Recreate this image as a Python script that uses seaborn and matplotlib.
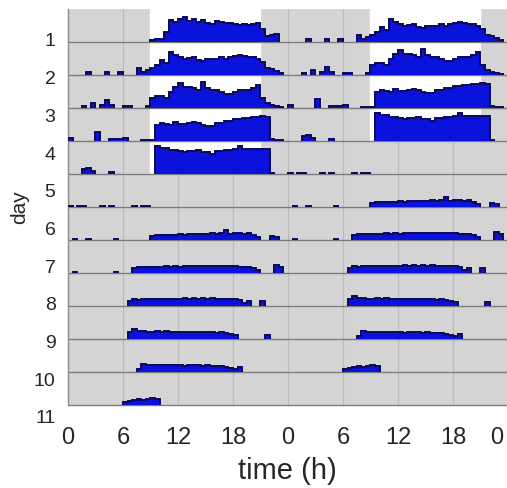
import numpy as np
import matplotlib
matplotlib.use("Agg")
import matplotlib.pyplot as plt
import seaborn as sns

# activity per half-hour bin (% of row height), one list per day
day1 = [0, 0, 0, 0, 0, 0, 0, 0, 0, 0, 0, 0,
        0, 0, 0, 0, 0, 0, 5, 8, 8, 30, 66, 62,
        70, 76, 65, 70, 62, 66, 57, 56, 63, 60, 58, 57,
        54, 53, 54, 53, 56, 58, 40, 18, 22, 25, 0, 0]
day2 = [0, 0, 0, 0, 8, 0, 0, 0, 8, 0, 0, 8,
        0, 0, 0, 20, 8, 15, 20, 30, 45, 35, 70, 60,
        55, 50, 52, 55, 45, 42, 47, 50, 50, 55, 50, 55,
        58, 62, 58, 55, 56, 50, 40, 20, 18, 12, 5, 0]
day3 = [0, 0, 0, 5, 0, 15, 0, 8, 25, 8, 0, 0,
        6, 6, 0, 0, 0, 5, 30, 35, 35, 30, 50, 65,
        75, 65, 65, 60, 55, 80, 60, 55, 55, 48, 42, 42,
        48, 55, 55, 55, 62, 70, 30, 15, 8, 5, 3, 0]
day4 = [8, 0, 0, 0, 0, 0, 28, 0, 0, 5, 6, 6,
        8, 0, 0, 0, 4, 4, 4, 50, 55, 52, 50, 58,
        52, 52, 55, 58, 55, 48, 45, 45, 55, 55, 60, 62,
        68, 68, 70, 70, 72, 72, 75, 72, 5, 3, 3, 0]
day5 = [0, 0, 0, 15, 18, 10, 0, 0, 0, 5, 0, 0,
        0, 0, 0, 0, 0, 0, 0, 85, 78, 78, 72, 72,
        70, 68, 70, 70, 72, 68, 68, 60, 70, 70, 72, 72,
        75, 85, 75, 75, 75, 75, 75, 75, 3, 0, 0, 0]
day6 = [3, 0, 3, 3, 0, 0, 0, 3, 0, 3, 0, 0,
        0, 0, 3, 0, 3, 3, 0, 0, 0, 0, 0, 0,
        0, 0, 0, 0, 0, 0, 0, 0, 0, 0, 0, 0,
        0, 0, 0, 0, 0, 0, 0, 0, 0, 0, 0, 0]
day7 = [0, 3, 0, 0, 3, 0, 0, 0, 0, 0, 3, 0,
        0, 0, 0, 0, 0, 0, 12, 15, 15, 16, 15, 16,
        17, 16, 18, 17, 18, 18, 19, 20, 18, 20, 30, 18,
        22, 20, 19, 20, 15, 8, 0, 0, 12, 8, 0, 0]
day8 = [0, 3, 0, 0, 0, 0, 0, 0, 0, 0, 3, 0,
        0, 0, 15, 18, 17, 18, 17, 18, 18, 20, 18, 20,
        19, 20, 20, 22, 21, 20, 20, 22, 21, 22, 22, 20,
        20, 18, 18, 17, 15, 8, 0, 0, 0, 25, 18, 0]
day9 = [0, 0, 0, 0, 0, 0, 0, 0, 0, 0, 0, 0,
        0, 15, 20, 18, 20, 22, 20, 22, 20, 22, 21, 22,
        22, 24, 22, 23, 22, 23, 22, 24, 22, 22, 20, 22,
        20, 18, 10, 15, 0, 0, 15, 0, 0, 0, 0, 0]
day10 = [0, 0, 0, 0, 0, 0, 0, 0, 0, 0, 0, 0,
         0, 22, 30, 25, 24, 22, 22, 24, 22, 24, 22, 20,
         20, 22, 20, 20, 20, 21, 20, 20, 18, 20, 17, 15,
         12, 0, 0, 0, 0, 0, 0, 12, 0, 0, 0, 0]
day11 = [0, 0, 0, 0, 0, 0, 0, 0, 0, 0, 0, 0,
         0, 0, 0, 10, 25, 22, 22, 20, 21, 20, 20, 21,
         20, 19, 20, 21, 20, 18, 20, 19, 18, 17, 15, 12,
         10, 15, 0, 0, 0, 0, 0, 0, 0, 0, 0, 0]
day12 = [0, 0, 0, 0, 0, 0, 0, 0, 0, 0, 0, 0,
         8, 12, 15, 18, 14, 18, 20, 18, 0, 0, 0, 0,
         0, 0, 0, 0, 0, 0, 0, 0, 0, 0, 0, 0,
         0, 0, 0, 0, 0, 0, 0, 0, 0, 0, 0, 0]

light_days = [1, 2, 3, 4, 5]
lights_on, lights_off = 9, 21
tick_hours = [0, 6, 12, 18, 24, 30, 36, 42, 46.8]
tick_labels = ["0", "6", "12", "18", "0", "6", "12", "18", "0"]
day_labels = [str(d) for d in range(1, 12)]

sns.set_style("white")
plt.rcParams["font.family"] = ["Liberation Sans", "DejaVu Sans"]

days = [day1, day2, day3, day4, day5, day6, day7, day8, day9, day10, day11, day12]
n_rows = len(days)
edges = np.arange(49) * 0.5
fill_col = "#0a12dc"
edge_col = "#0a0a5a"

fig = plt.figure(figsize=(5.07, 4.89), dpi=100)
ax = fig.add_axes([68 / 507, 83 / 489, 439 / 507, 396 / 489])
ax.set_facecolor("#d4d4d4")
ax.set_xlim(0, 47.9)
ax.set_ylim(n_rows, 0)

ax.vlines(np.arange(6, 48, 6), 0, n_rows, color="#bababa", lw=0.9, zorder=0.5)

for k in range(1, n_rows + 1):
    halves = [(k, 0)]
    if k < n_rows:
        halves.append((k + 1, 24))
    for day, off in halves:
        if day in light_days:
            ax.broken_barh([(lights_on + off, lights_off - lights_on)], (k - 1, 1),
                           facecolors="white", zorder=1)
        vals = np.array(days[day - 1], dtype=float) / 100
        top = np.where(vals > 0, k - vals, np.nan)
        ax.stairs(top, edges + off, baseline=k, fill=True, color=fill_col, lw=0, zorder=3)
        ax.stairs(top, edges + off, baseline=k, fill=False, color=edge_col, lw=1.4, zorder=4)

ax.hlines(np.arange(1, n_rows + 1), 0, 48, color="#7c7c7c", lw=1, zorder=2, clip_on=False)

for s in ["top", "right", "bottom"]:
    ax.spines[s].set_visible(False)
ax.spines["left"].set_color("#8c8c8c")
ax.spines["left"].set_linewidth(1)

ax.set_yticks([])
ax.set_xticks(tick_hours, tick_labels, fontsize=17)
ax.tick_params(axis="x", length=0, pad=15)
ax.set_xlabel("time (h)", fontsize=21, labelpad=6)

# day labels sit on their own scale, not aligned to the rows
lab = fig.add_axes([68 / 507, 72 / 489, 0.0001, 377 / 489])
lab.set_ylim(11, 1)
lab.set_yticks(range(1, 12), day_labels, fontsize=14)
lab.set_xticks([])
lab.tick_params(axis="y", length=0, pad=9)
lab.patch.set_visible(False)
for s in lab.spines.values():
    s.set_visible(False)

fig.text(20 / 507, 1 - 207 / 489, "day", rotation=90, fontsize=15, ha="center", va="center")

fig.savefig("out.png", dpi=100)
